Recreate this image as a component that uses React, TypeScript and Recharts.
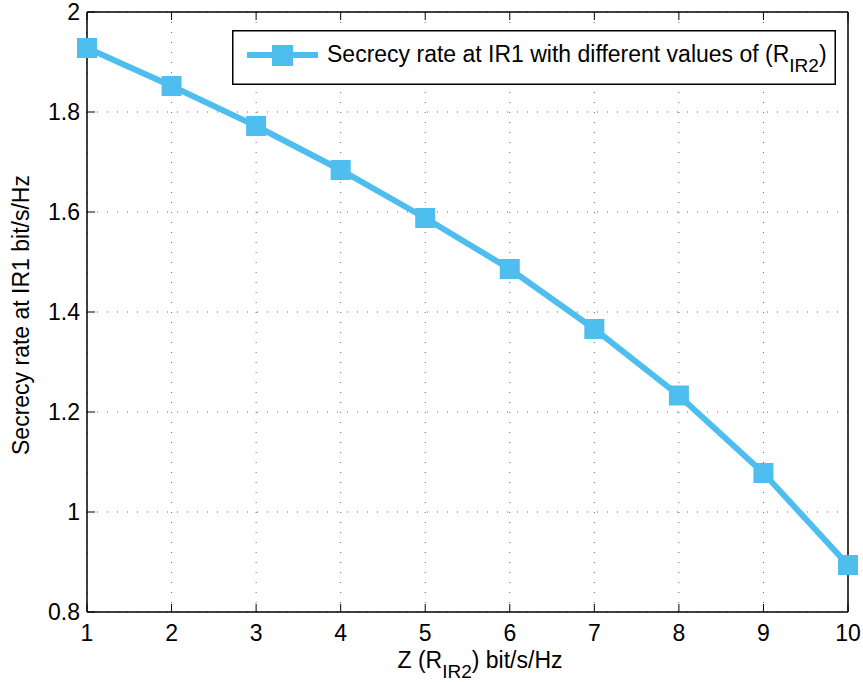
import { LineChart, Line, XAxis, YAxis, CartesianGrid, Legend } from "recharts"

// Secrecy rate vs Z, sampled at Z = 1..10
const zValues = [1, 2, 3, 4, 5, 6, 7, 8, 9, 10]
const secrecyRate = [1.928, 1.852, 1.772, 1.684, 1.588, 1.486, 1.366, 1.233, 1.078, 0.894]
const xTicks = [1, 2, 3, 4, 5, 6, 7, 8, 9, 10]
const yTicks = [0.8, 1, 1.2, 1.4, 1.6, 1.8, 2]

const data = zValues.map((z, i) => ({ z, rate: secrecyRate[i] }))

const LINE_COLOR = "#4DBEEE"
const FONT = "'Liberation Sans', Arial, Helvetica, sans-serif"
const FONT_SIZE = 23
const SUB_SIZE = 19
const TICK_LEN = 8

const fmtY = (v: number) => (Number.isInteger(v) ? String(v) : v.toFixed(1))

// bottom axis: label below, tick mark pointing up into the plot
const BottomTick = (props: any) => {
  const { x, y, payload } = props
  return (
    <g>
      <line x1={x} x2={x} y1={y} y2={y - TICK_LEN} stroke="#000" strokeWidth={1} />
      <text x={x} y={y + 29} textAnchor="middle" fontSize={FONT_SIZE} fontFamily={FONT} fill="#000">
        {payload.value}
      </text>
    </g>
  )
}

const LeftTick = (props: any) => {
  const { x, y, payload } = props
  return (
    <g>
      <line x1={x} x2={x + TICK_LEN} y1={y} y2={y} stroke="#000" strokeWidth={1} />
      <text x={x - 7} y={y + 8} textAnchor="end" fontSize={FONT_SIZE} fontFamily={FONT} fill="#000">
        {fmtY(payload.value)}
      </text>
    </g>
  )
}

const TopTick = (props: any) => {
  const { x, y } = props
  return <line x1={x} x2={x} y1={y} y2={y + TICK_LEN} stroke="#000" strokeWidth={1} />
}

const RightTick = (props: any) => {
  const { x, y } = props
  return <line x1={x} x2={x - TICK_LEN} y1={y} y2={y} stroke="#000" strokeWidth={1} />
}

const SquareDot = (props: any) => {
  const { cx, cy, index } = props
  if (cx == null || cy == null) return null
  return <rect key={index} x={cx - 10} y={cy - 10} width={20} height={20} fill={LINE_COLOR} />
}

const LegendBox = () => (
  <svg width={604} height={55} style={{ position: "absolute", left: 232, top: 30 }}>
    <rect x={0.75} y={0.75} width={602.5} height={53.5} fill="#fff" stroke="#000" strokeWidth={1.5} />
    <line x1={15} x2={86} y1={25} y2={25} stroke={LINE_COLOR} strokeWidth={6} />
    <rect x={40} y={15} width={21} height={21} fill={LINE_COLOR} />
    <text x={95} y={32} fontSize={FONT_SIZE} fontFamily={FONT} fill="#000">
      Secrecy rate at IR1 with different values of (R
      <tspan fontSize={SUB_SIZE} dy={10}>IR2</tspan>
      <tspan dy={-10}>)</tspan>
    </text>
  </svg>
)

export default function App() {
  return (
    <div style={{ position: "absolute", left: 0, top: 0, width: 863, height: 682, background: "#fff" }}>
      <LineChart
        width={863}
        height={682}
        data={data}
        margin={{ top: 11, right: 14, bottom: 30, left: 27 }}
      >
        <CartesianGrid
          xAxisId="bottom"
          yAxisId="left"
          stroke="#666"
          strokeDasharray="1 9"
          strokeWidth={1}
        />
        <XAxis
          xAxisId="bottom"
          dataKey="z"
          type="number"
          domain={[1, 10]}
          ticks={xTicks}
          height={40}
          axisLine={{ stroke: "#000", strokeWidth: 1.5 }}
          tickLine={false}
          tickSize={0}
          tickMargin={0}
          tick={<BottomTick />}
          interval={0}
        />
        <XAxis
          xAxisId="top"
          orientation="top"
          dataKey="z"
          type="number"
          domain={[1, 10]}
          ticks={xTicks}
          height={1}
          axisLine={{ stroke: "#000", strokeWidth: 1.5 }}
          tickLine={false}
          tickSize={0}
          tickMargin={0}
          tick={<TopTick />}
          interval={0}
        />
        <YAxis
          yAxisId="left"
          type="number"
          domain={[0.8, 2]}
          ticks={yTicks}
          width={60}
          axisLine={{ stroke: "#000", strokeWidth: 1.5 }}
          tickLine={false}
          tickSize={0}
          tickMargin={0}
          tick={<LeftTick />}
          interval={0}
        />
        <YAxis
          yAxisId="right"
          orientation="right"
          type="number"
          domain={[0.8, 2]}
          ticks={yTicks}
          width={1}
          axisLine={{ stroke: "#000", strokeWidth: 1.5 }}
          tickLine={false}
          tickSize={0}
          tickMargin={0}
          tick={<RightTick />}
          interval={0}
        />
        <Line
          xAxisId="bottom"
          yAxisId="left"
          type="linear"
          dataKey="rate"
          stroke={LINE_COLOR}
          strokeWidth={6}
          dot={<SquareDot />}
          activeDot={false}
          isAnimationActive={false}
        />
        <Legend content={<LegendBox />} wrapperStyle={{ position: "absolute", left: 0, top: 0, width: 0, height: 0 }} />
        <text x={480} y={668} textAnchor="middle" fontSize={FONT_SIZE} fontFamily={FONT} fill="#000">
          Z (R<tspan fontSize={SUB_SIZE} dy={10}>IR2</tspan>
          <tspan dy={-10}>) bit/s/Hz</tspan>
        </text>
        <text
          x={29}
          y={315}
          transform="rotate(-90 29 315)"
          textAnchor="middle"
          fontSize={FONT_SIZE}
          fontFamily={FONT}
          fill="#000"
        >
          Secrecy rate at IR1 bit/s/Hz
        </text>
      </LineChart>
    </div>
  )
}
